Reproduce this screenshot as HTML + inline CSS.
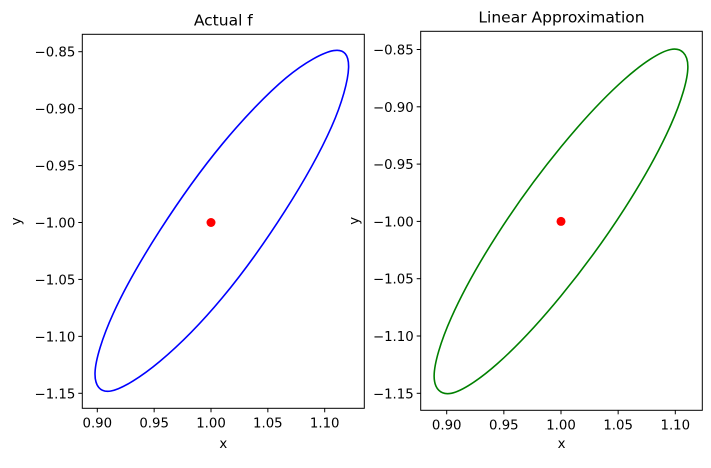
<!DOCTYPE html>
<html><head><meta charset="utf-8"><style>
body{margin:0;background:#fff;}
svg text{font-family:"DejaVu Sans","Liberation Sans",sans-serif;fill:#000;}
</style></head><body>
<svg id="c" width="711" height="463" xmlns="http://www.w3.org/2000/svg"></svg>
<script>
const xTicks=[0.90,0.95,1.00,1.05,1.10];
const xTickLabels=["0.90","0.95","1.00","1.05","1.10"];
const yTicks=[-0.85,-0.90,-0.95,-1.00,-1.05,-1.10,-1.15];
const yTickLabels=["−0.85","−0.90","−0.95","−1.00","−1.05","−1.10","−1.15"];
const actualX=[1.121,1.108,1.066,1.010,0.955,0.914,0.898,0.912,0.955,1.010,1.065,1.106];
const actualY=[-0.864,-0.849,-0.873,-0.931,-1.007,-1.080,-1.132,-1.148,-1.122,-1.066,-0.990,-0.916];
const linX=[1.111,1.096,1.0555,1.000,0.9445,0.904,0.889,0.904,0.9445,1.000,1.0555,1.096];
const linY=[-0.865,-0.850,-0.876,-0.935,-1.011,-1.084,-1.135,-1.150,-1.124,-1.065,-0.989,-0.916];
const centerX=[1.0];
const centerY=[-1.0];
const NS="http://www.w3.org/2000/svg";
const svg=document.getElementById('c');
function mk(t,a,p){const e=document.createElementNS(NS,t);for(const k in a)e.setAttribute(k,a[k]);(p||svg).appendChild(e);return e;}
const panels=[
 {L:82.3,R:364.3,T:34.3,B:408.3,x0:0.90,px0:97.3,x1:1.10,px1:324.7,y0:-0.85,py0:51.7,y1:-1.15,py1:393.3,title:"Actual f",xs:actualX,ys:actualY,color:"#0000ff",name:"actual"},
 {L:420.7,R:702.3,T:31.3,B:410.3,x0:0.90,px0:446.7,x1:1.10,px1:675.3,y0:-0.85,py0:49.5,y1:-1.15,py1:393.3,title:"Linear Approximation",xs:linX,ys:linY,color:"#008000",name:"linear"}
];
panels.forEach(p=>{
 const sx=v=>p.px0+(v-p.x0)*(p.px1-p.px0)/(p.x1-p.x0);
 const sy=v=>p.py0+(v-p.y0)*(p.py1-p.py0)/(p.y1-p.y0);
 const g=mk('g',{});
 
 
 const n=p.xs.length;const P=[];for(let i=0;i<n;i++)P.push([sx(p.xs[i]),sy(p.ys[i])]);
 let d=`M${P[0][0]},${P[0][1]}`;
 for(let i=0;i<n;i++){const a=P[(i-1+n)%n],b=P[i],c=P[(i+1)%n],e=P[(i+2)%n];
  d+=` C${b[0]+(c[0]-a[0])/6},${b[1]+(c[1]-a[1])/6} ${c[0]-(e[0]-b[0])/6},${c[1]-(e[1]-b[1])/6} ${c[0]},${c[1]}`;}
 const cur=mk('path',{d:d+'Z',fill:'none',stroke:p.color,'stroke-width':1.6},g);
 
 
 const dot=mk('circle',{cx:sx(centerX[0]),cy:sy(centerY[0]),r:4.5,fill:'#ff0000'},g);
 
 
 const fr=mk('rect',{x:p.L,y:p.T,width:p.R-p.L,height:p.B-p.T,fill:'none',stroke:'#000','stroke-width':1},g);
 
 
 xTicks.forEach((v,i)=>{const x=sx(v);
  mk('line',{x1:x,x2:x,y1:p.B,y2:p.B+4,stroke:'#000'},g);
  const t=mk('text',{x:x,y:p.B+19,'text-anchor':'middle','font-size':13.3},g);t.textContent=xTickLabels[i];
  
  });
 yTicks.forEach((v,i)=>{const y=sy(v);
  mk('line',{x1:p.L-4,x2:p.L,y1:y,y2:y,stroke:'#000'},g);
  const t=mk('text',{x:p.L-7,y:y+5,'text-anchor':'end','font-size':13.3},g);t.textContent=yTickLabels[i];
  
  });
 const ti=mk('text',{x:(p.L+p.R)/2,y:p.T-9,'text-anchor':'middle','font-size':15.5},g);ti.textContent=p.title;
 
 
 const xl=mk('text',{x:(p.L+p.R)/2,y:448,'text-anchor':'middle','font-size':13.3},g);xl.textContent='x';
 
 
 const yx=p.L-62,yy=(p.T+p.B)/2;
 const yl=mk('text',{x:yx,y:yy,'text-anchor':'middle','font-size':13.3,transform:`rotate(-90 ${yx} ${yy})`},g);yl.textContent='y';
 
 
});
</script>
</body></html>
